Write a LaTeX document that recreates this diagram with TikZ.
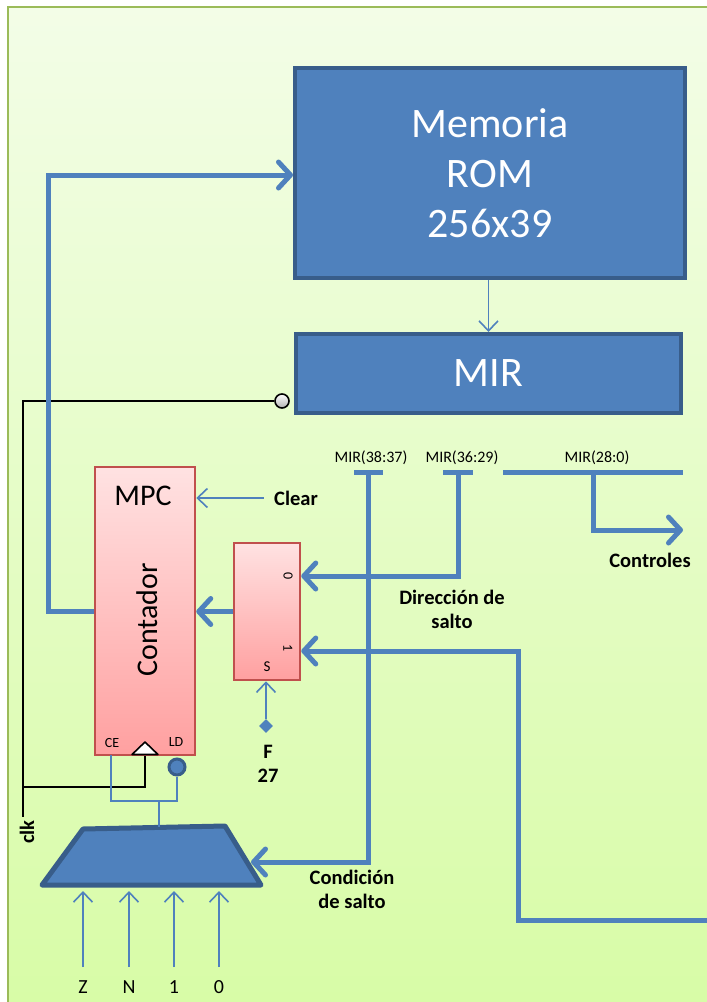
\documentclass[tikz,border=0pt]{standalone}
\usepackage{fontspec}
\setmainfont{Carlito}
\usetikzlibrary{arrows.meta,shapes.geometric}
\definecolor{busblue}{HTML}{4F81BD}
\definecolor{bluedark}{HTML}{385D8A}
\definecolor{redb}{HTML}{C0504D}
\definecolor{pinktop}{HTML}{FFE2E2}
\definecolor{pinkbot}{HTML}{FFA0A0}
\definecolor{grnb}{HTML}{9BBB59}
\definecolor{bgtop}{HTML}{F3FDE7}
\definecolor{bgbot}{HTML}{D7FCA5}
\begin{document}
\begin{tikzpicture}[x=1pt,y=-1pt,
  bluebox/.style={draw=bluedark, fill=busblue, line width=4pt, rectangle, text=white, align=center, inner sep=0pt},
  pinkbox/.style={draw=redb, line width=2.5pt, rectangle, top color=pinktop, bottom color=pinkbot, inner sep=0pt},
  bus/.style={draw=busblue, line width=5pt},
  busarrow/.style={bus, -{Straight Barb[length=12pt,width=26pt,round]}},
  thinline/.style={draw=busblue, line width=1.6pt},
  thinarrow/.style={thinline, -{Straight Barb[length=10pt,width=19pt]}},
  clkline/.style={draw=black, line width=2pt},
  lbl/.style={font=\fontsize{20.5}{24}\selectfont\bfseries, align=center, inner sep=0pt},
  field/.style={font=\fontsize{16}{18}\selectfont, inner sep=0pt},
  pin/.style={font=\fontsize{14}{16}\selectfont, inner sep=0pt},
  inp/.style={font=\fontsize{20}{24}\selectfont, inner sep=0pt}
]
\useasboundingbox (0,0) rectangle (707,1002);
% background
\path[draw=grnb, line width=2.5pt, top color=bgtop, bottom color=bgbot] (8,7) rectangle (730,1030);

% ROM and MIR
\node[bluebox, minimum width=390pt, minimum height=210pt, font=\fontsize{42}{50}\selectfont] (rom) at (490,173) {Memoria\\ROM\\256x39};
\node[bluebox, minimum width=385pt, minimum height=79pt, font=\fontsize{42}{50}\selectfont] (mir) at (488.5,373.5) {MIR};
\draw[thinarrow] (rom.south -| mir.north) -- (mir.north);

% clock
\node[circle, draw=black, line width=1.6pt, inner sep=0pt, minimum size=14pt, top color=white, bottom color=black!30] (clkc) at (282,401) {};
\coordinate (clkTop) at (23,401);
\coordinate (clkEnd) at (23,817);
\coordinate (clkJ) at (23,787);
\coordinate (clkK) at (145,787);
\coordinate (clkIn) at (145,754);
\draw[clkline] (clkc.west) -- (clkTop) -- (clkEnd);
\draw[clkline] (clkJ) -- (clkK) -- (clkIn);
\node[lbl, rotate=90] (clklbl) at (27,832) {clk};

% MPC
\node[pinkbox, minimum width=100pt, minimum height=288pt] (mpc) at (145,611) {};
\node[font=\fontsize{30}{32}\selectfont, inner sep=0pt] (mpcl) at (143,496) {MPC};
\node[font=\fontsize{30}{32}\selectfont, inner sep=0pt, rotate=90] (cont) at (147,620) {Contador};
\node[pin] (ce) at (112,743) {CE};
\node[pin] (ldl) at (176,742) {LD};
\draw[black, line width=1.6pt, fill=white, line join=round] (132,754.5) -- (158,754.5) -- (145,742) -- cycle;

% Clear
\node[lbl] (clear) at (296,498) {Clear};
\draw[thinarrow] ([xshift=-10pt]clear.west) -- (mpc.east |- clear.west);

% small mux
\node[pinkbox, minimum width=66pt, minimum height=137pt] (smux) at (267,611.5) {};
\node[pin, font=\fontsize{14}{15}\selectfont, rotate=-90] (s0) at (288,576) {0};
\node[pin, font=\fontsize{14}{15}\selectfont, rotate=-90] (s1) at (288,648) {1};
\node[pin, font=\fontsize{15}{16}\selectfont] (ss) at (267,667) {S};
\draw[busarrow] (smux.west) -- (mpc.east |- smux.west);

% feedback to ROM
\coordinate (fbA) at (48,611);
\coordinate (fbB) at (48,175);
\coordinate (fbC) at (200,175);
\draw[busarrow] (mpc.west) -- (fbA) -- (fbB) -- (rom.west |- fbC);

% F 27 selector
\node[diamond, fill=busblue, inner sep=0pt, minimum size=14pt] (fdia) at (266,726) {};
\draw[thinarrow] (fdia.north) -- (smux.south -| fdia.north);
\node[lbl] (f27) at (268,764) {F\\27};

% MIR fields
\node[field] (f1) at (371,458) {MIR(38:37)};
\node[field] (f2) at (462,458) {MIR(36:29)};
\node[field] (f3) at (597,458) {MIR(28:0)};
\coordinate (b1L) at (354,472); \coordinate (b1R) at (383,472); \coordinate (b1S) at (368,472);
\coordinate (b2L) at (443,472); \coordinate (b2R) at (473,472); \coordinate (b2S) at (458,472);
\coordinate (b3L) at (503,472); \coordinate (b3R) at (683,472); \coordinate (b3S) at (593,472);
\draw[bus] (b1L) -- (b1R);
\draw[bus] (b2L) -- (b2R);
\draw[bus] (b3L) -- (b3R);

% jump address to input 0
\coordinate (j0) at (458,576);
\draw[busarrow] (b2S) -- (j0) -- ([yshift=35.5pt]smux.east);
% controls
\coordinate (c1) at (593,530);
\coordinate (c2) at (683,530);
\draw[busarrow] (b3S) -- (c1) -- (c2);
\node[lbl] (ctrl) at (650,560) {Controles};
\node[lbl] (dir) at (452,609) {Dirección de\\salto};

% input 1
\coordinate (i1a) at (518,651);
\coordinate (i1b) at (518,920);
\coordinate (i1c) at (720,920);
\draw[busarrow] (i1c) -- (i1b) -- (i1a) -- ([yshift=-39.5pt]smux.east);

% condition mux (trapezoid)
\draw[fill=busblue, draw=bluedark, line width=5pt, line join=round] (83,829) -- (225,826) -- (261,885) -- (42,885) -- cycle;
\coordinate (trapR) at (251,862);
\coordinate (trapT) at (159,827);
\coordinate (cv) at (368,862);
\draw[busarrow] (b1S) -- (cv) -- (trapR);
\node[lbl] (cond) at (352,889) {Condición\\de salto};

% CE / LD wiring
\node[circle, fill=busblue, draw=bluedark, line width=3pt, inner sep=0pt, minimum size=16pt] (ld) at (177,767) {};
\coordinate (ceT) at (111,755);
\coordinate (ceB) at (111,801);
\coordinate (ldB) at (177,801);
\coordinate (jn) at (159,801);
\draw[thinline] (ceT) -- (ceB) -- (ldB) -- (ld.south);
\draw[thinline] (jn) -- (trapT);

% inputs
\node[inp] (iz) at (83,987) {Z};
\node[inp] (in) at (129,987) {N};
\node[inp] (i1) at (174,987) {1};
\node[inp] (i0) at (219,987) {0};
\foreach \n/\x in {iz/83,in/129,i1/174,i0/219}{
  \coordinate (\n s) at (\x,967);
  \coordinate (\n t) at (\x,891);
  \draw[thinarrow] (\n s) -- (\n t);
}
\end{tikzpicture}
\end{document}
